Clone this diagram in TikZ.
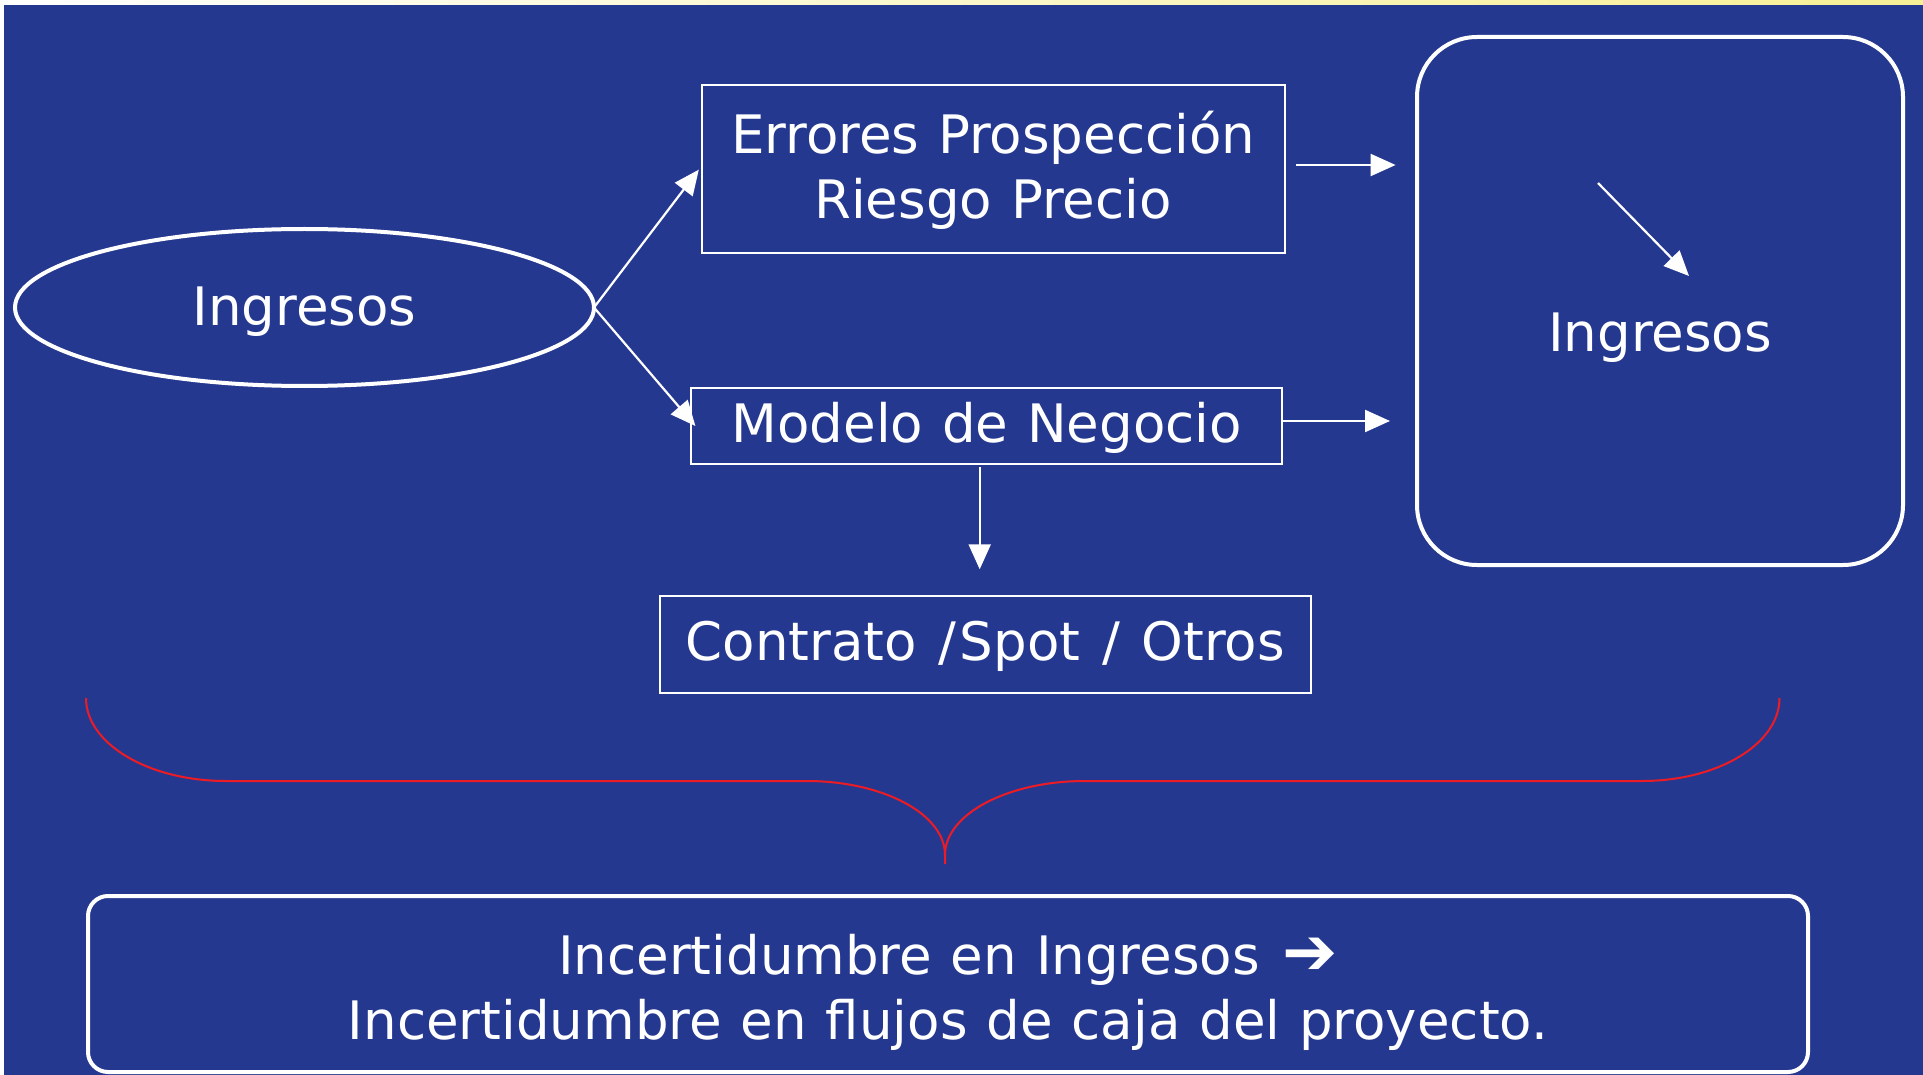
\documentclass[tikz,border=0pt]{standalone}
\usepackage{fontspec}
\setmainfont{DejaVu Sans}[WordSpace=1.12]
\usetikzlibrary{arrows.meta,shapes.geometric}
\definecolor{bgblue}{RGB}{37,56,144}
\definecolor{bracered}{RGB}{237,28,36}
\definecolor{stripyellow}{RGB}{248,240,150}
\newcommand{\wslash}{\kern3pt/\kern3pt}
\begin{document}
\begin{tikzpicture}[x=1pt,y=-1pt,
  txt/.style={text=white, font=\fontsize{53pt}{64.3pt}\selectfont},
  box/.style={txt, draw=white, line width=2pt, rectangle, inner sep=0pt, outer sep=0pt},
  ellbox/.style={txt, draw=white, line width=4pt, ellipse, inner sep=0pt, outer sep=0pt},
  roundbox/.style={txt, draw=white, line width=4pt, rectangle, inner sep=0pt, outer sep=0pt},
  arr/.style={draw=white, line width=2.2pt, -{Triangle[length=25pt,width=22pt]}},
  bracestyle/.style={draw=bracered, line width=2pt}]
\useasboundingbox (0,0) rectangle (1923,1075);
\fill[white] (0,0) rectangle (1923,1075);
\shade[left color=white, right color=stripyellow] (0,0) rectangle (1923,5);
\fill[bgblue] (4,5) rectangle (1923,1075);

% nodes
\node[ellbox, minimum width=579pt, minimum height=157pt, text height=40pt, text depth=3.6pt] (ing) at (304.5,307.5) {Ingresos};
\node[box, minimum width=582.9pt, minimum height=168.6pt, align=center] (err) at (993.05,169)
  {\rule{0pt}{50pt}Errores Prospección\\Riesgo Precio\rule[-15.7pt]{0pt}{15.7pt}};
\node[box, minimum width=590.6pt, text height=54.7pt, text depth=21.3pt] (mod) at (986.7,426) {Modelo de Negocio};
\node[box, minimum width=651.4pt, text height=64.7pt, text depth=32.6pt] (con) at (985.3,644.65) {Contrato \wslash Spot \wslash\ Otros};
\node[roundbox, rounded corners=60pt, minimum width=486pt, minimum height=528pt, text height=110pt, text depth=8.6pt] (rbox) at (1660,301) {Ingresos};
\node[roundbox, rounded corners=20pt, minimum width=1720pt, minimum height=176pt, align=center,
  font=\fontsize{53pt}{65pt}\selectfont] (bot) at (948,984)
  {\rule{0pt}{58pt}Incertidumbre en Ingresos\kern4pt\ {\fontsize{66pt}{65pt}\selectfont\bfseries ➔}\\Incertidumbre en flujos de caja del proyecto.\rule[-13pt]{0pt}{13pt}};

% connectors
\draw[arr, shorten >=4.6pt] (ing.east) -- ([yshift=3pt]err.west);
\draw[arr] (ing.east) -- ([xshift=4pt]mod.west);
\coordinate (e1) at ([yshift=4pt]err.east);
\draw[arr, shorten <=11.5pt, shorten >=21.4pt] (e1) -- (e1 -| rbox.west);
\coordinate (m1) at ([yshift=5pt]mod.east);
\draw[arr, shorten >=27pt] (m1) -- (m1 -| rbox.west);
\coordinate (m2) at ([xshift=-7pt]mod.south);
\draw[arr, shorten <=2.7pt, shorten >=26.7pt] (m2) -- (m2 |- con.north);
\coordinate (d1) at (1598,183);
\coordinate (d2) at (1689,276);
\draw[arr] (d1) -- (d2);

% brace
\draw[bracestyle] (86,698) .. controls (86,744) and (149,781) .. (226,781) -- (806.5,781)
  .. controls (883,781) and (945,814) .. (945,855) -- (945,864);
\draw[bracestyle] (945,855) .. controls (945,814) and (1008,781) .. (1085,781) -- (1642,781)
  .. controls (1718,781) and (1779.5,744) .. (1779.5,698);
\end{tikzpicture}
\end{document}
